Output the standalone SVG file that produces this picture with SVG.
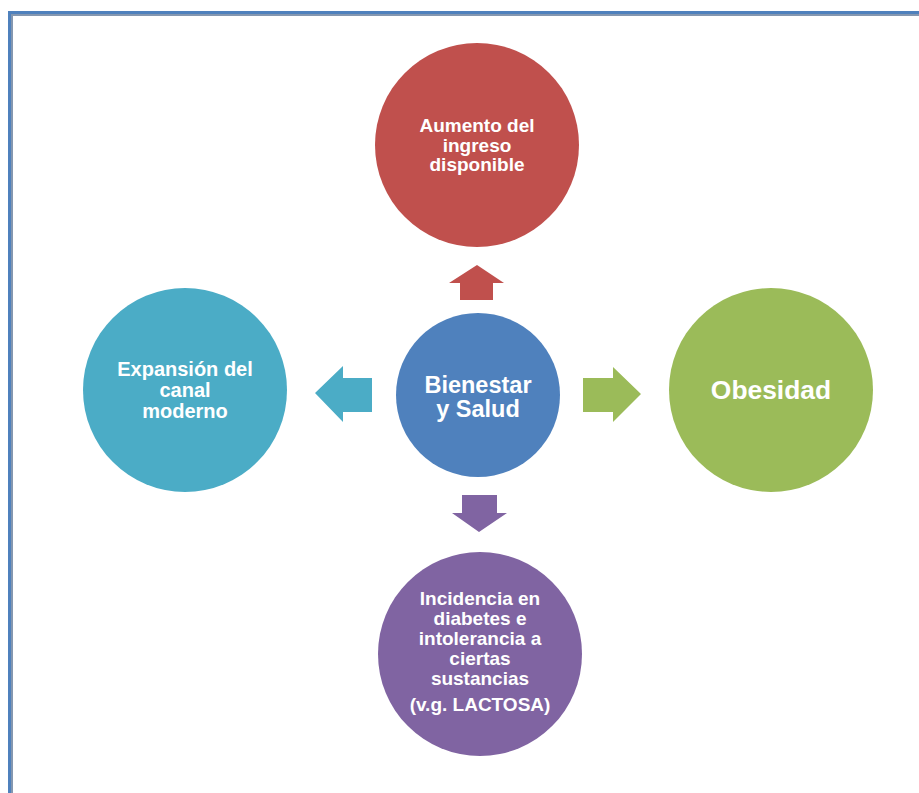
<svg xmlns="http://www.w3.org/2000/svg" width="919" height="793" viewBox="0 0 919 793">
  <style>
    .lbl { font-family: "Liberation Sans", Arial, sans-serif; font-weight: bold; fill: #ffffff; text-anchor: middle; }
  </style>
  <rect width="919" height="793" fill="#ffffff"/>
  <!-- page frame -->
  <g id="frame">
    <rect x="8" y="11" width="911" height="3" fill="#4F81BD"/>
    <rect x="11" y="14" width="908" height="2" fill="#8497B0"/>
    <rect x="8" y="11" width="3" height="782" fill="#4F81BD"/>
    <rect x="11" y="14" width="2" height="779" fill="#8497B0"/>
  </g>

  <g id="connectors">
    <polygon points="477,265 504,283 493,283 493,300 460,300 460,283 449,283" fill="#C0504D"/>
    <polygon points="315,393 343,366 343,378 372,378 372,412 343,412 343,422" fill="#4BACC6"/>
    <polygon points="641,394 613,367 613,378 583,378 583,412 613,412 613,422" fill="#9BBB59"/>
    <polygon points="479,532 507,513 497,513 497,495 462,495 462,513 452,513" fill="#8064A2"/>
  </g>

  <g id="center">
    <circle cx="478" cy="395" r="82" fill="#4F81BD"/>
    <text class="lbl" font-size="23.5" x="478" y="393">Bienestar</text>
    <text class="lbl" font-size="23.5" x="478" y="417">y Salud</text>
  </g>

  <g id="top">
    <circle cx="477" cy="145" r="102" fill="#C0504D"/>
    <text class="lbl" font-size="19" x="477" y="132">Aumento del</text>
    <text class="lbl" font-size="19" x="477" y="152">ingreso</text>
    <text class="lbl" font-size="19" x="477" y="171">disponible</text>
  </g>

  <g id="left">
    <circle cx="185" cy="390" r="102" fill="#4BACC6"/>
    <text class="lbl" font-size="20" x="185" y="376">Expansión del</text>
    <text class="lbl" font-size="20" x="185" y="397">canal</text>
    <text class="lbl" font-size="20" x="185" y="418">moderno</text>
  </g>

  <g id="right">
    <circle cx="771" cy="390" r="102" fill="#9BBB59"/>
    <text class="lbl" font-size="26.4" x="771" y="399">Obesidad</text>
  </g>

  <g id="bottom">
    <circle cx="480" cy="654" r="102" fill="#8064A2"/>
    <text class="lbl" font-size="19" x="480" y="605">Incidencia en</text>
    <text class="lbl" font-size="19" x="480" y="625">diabetes e</text>
    <text class="lbl" font-size="19" x="480" y="645">intolerancia a</text>
    <text class="lbl" font-size="19" x="480" y="665">ciertas</text>
    <text class="lbl" font-size="19" x="480" y="685">sustancias</text>
    <text class="lbl" font-size="19" x="480" y="711">(v.g. LACTOSA)</text>
  </g>
</svg>
